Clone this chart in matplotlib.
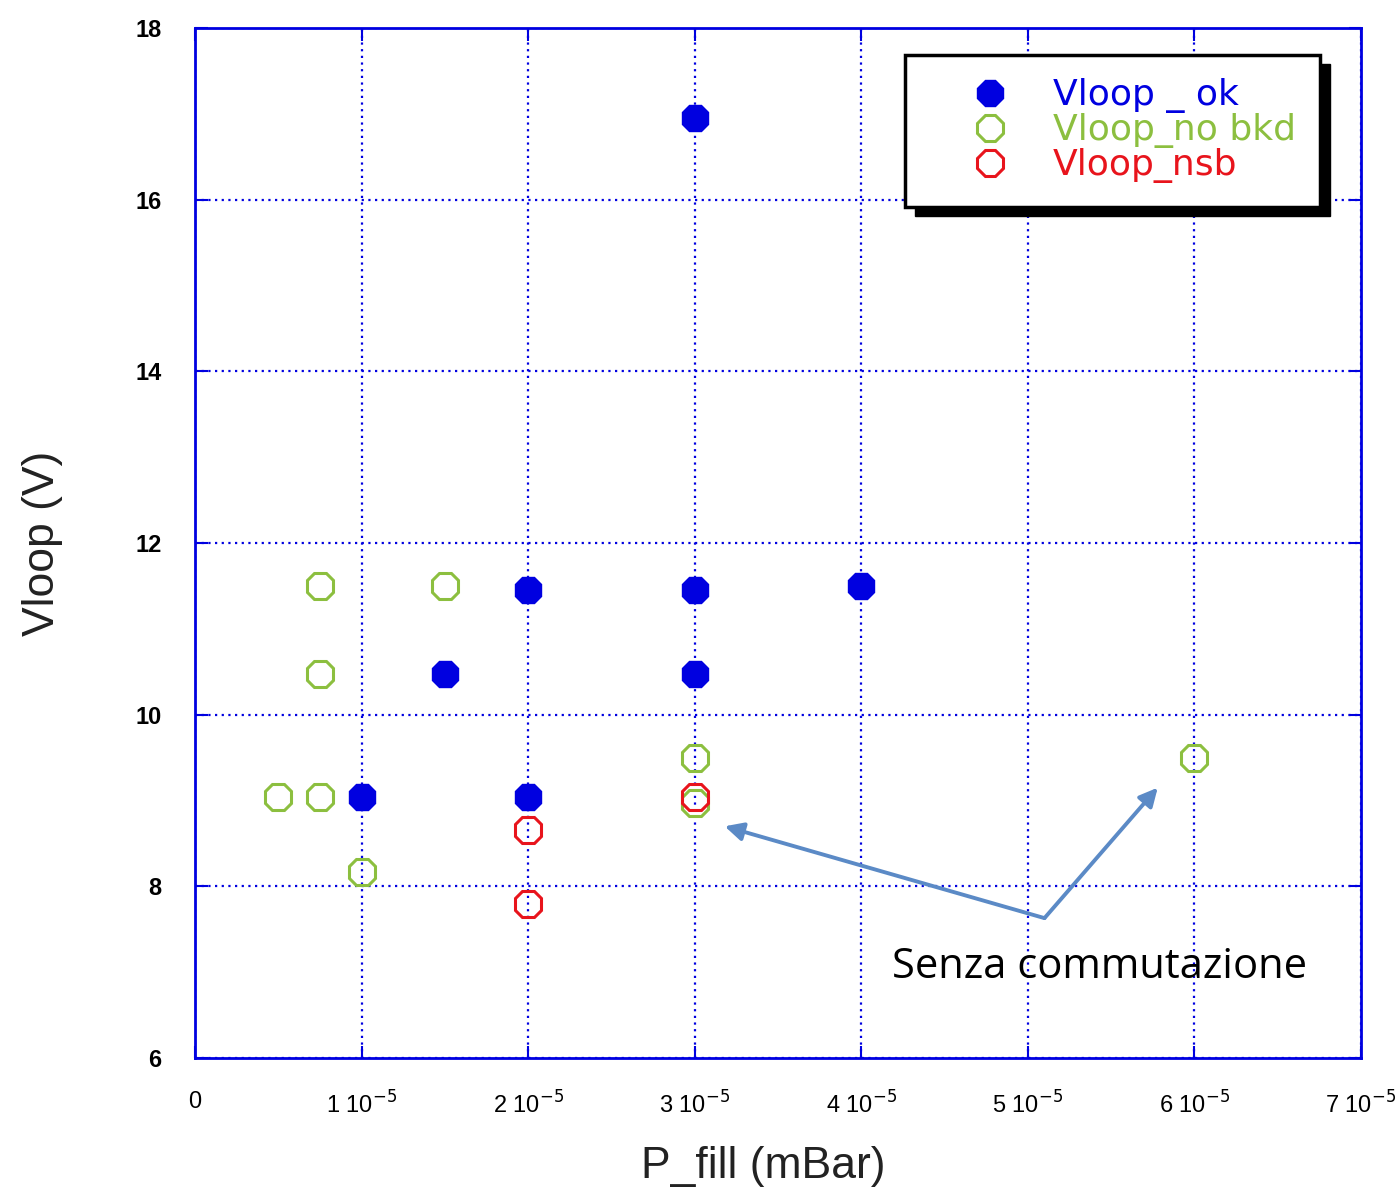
import matplotlib
matplotlib.use("Agg")
import matplotlib.pyplot as plt
from matplotlib.patches import Rectangle
import numpy as np

# Data
ok_x = [3e-5, 2e-5, 3e-5, 4e-5, 1.5e-5, 3e-5, 1e-5, 2e-5]
ok_y = [16.95, 11.45, 11.45, 11.5, 10.48, 10.48, 9.04, 9.04]
nobkd_x = [0.75e-5, 1.5e-5, 0.75e-5, 0.5e-5, 0.75e-5, 1e-5, 3e-5, 3e-5, 6e-5]
nobkd_y = [11.5, 11.5, 10.48, 9.04, 9.04, 8.17, 9.49, 8.97, 9.49]
nsb_x = [2e-5, 2e-5, 3e-5]
nsb_y = [8.66, 7.79, 9.04]

xticks = [0, 1e-5, 2e-5, 3e-5, 4e-5, 5e-5, 6e-5, 7e-5]
xticklabels = ["0"] + [r"%d 10$^{-5}$" % i for i in range(1, 8)]
yticks = [6, 8, 10, 12, 14, 16, 18]

BLUE = "#0000e0"
GREEN = "#8cbf3f"
RED = "#e8141c"
ARROW = "#5b8ac6"

narrow = ["Liberation Sans Narrow", "Liberation Sans", "DejaVu Sans"]

fig = plt.figure(figsize=(13.99, 11.88), dpi=100)
ax = fig.add_axes([0.1394, 0.1094, 0.8334, 0.867])

ax.set_xlim(0, 7e-5)
ax.set_ylim(6, 18)

ms = 21
ax.plot(nobkd_x, nobkd_y, linestyle="none", marker="8", ms=ms, mfc="none",
        mec=GREEN, mew=2.2, label="Vloop_no bkd", zorder=3)
ax.plot(nsb_x, nsb_y, linestyle="none", marker="8", ms=ms, mfc="none",
        mec=RED, mew=2.2, label="Vloop_nsb", zorder=4)
ax.plot(ok_x, ok_y, linestyle="none", marker="8", ms=ms, mfc=BLUE,
        mec=BLUE, mew=1, label="Vloop _ ok", zorder=5)

ax.set_xticks(xticks)
ax.set_xticklabels(xticklabels, family=narrow, fontsize=17)
ax.set_yticks(yticks)
ax.set_yticklabels([str(v) for v in yticks], family=narrow, fontsize=17,
                   fontweight="bold")
ax.tick_params(direction="in", length=9, width=1.5, color=BLUE,
               top=True, right=True)
ax.tick_params(axis="x", pad=24)
ax.tick_params(axis="y", pad=24)
for s in ax.spines.values():
    s.set_color(BLUE)
    s.set_linewidth(2)
ax.grid(True, color=BLUE, linestyle=(0, (1, 2)), linewidth=1.6)
ax.set_axisbelow(True)

ax.set_xlabel("P_fill (mBar)", family=narrow, fontsize=32, color="#222222")
ax.xaxis.set_label_coords(0.487, -0.085)
ax.set_ylabel("Vloop (V)", family=narrow, fontsize=32, color="#222222")
ax.yaxis.set_label_coords(-0.113, 0.50)

# Legend
h, l = ax.get_legend_handles_labels()
order = [2, 0, 1]
leg = ax.legend([h[i] for i in order], [l[i] for i in order],
                loc="upper left", bbox_to_anchor=(0.609, 0.974),
                prop={"family": ["DejaVu Sans"], "size": 26},
                labelcolor=[BLUE, GREEN, RED], frameon=True, fancybox=False,
                edgecolor="black", framealpha=1, labelspacing=0.0,
                handletextpad=0.05, borderpad=0.65, borderaxespad=0,
                handlelength=3.4, markerscale=0.95)
leg.get_frame().set_linewidth(2.5)
leg.set_zorder(10)

fig.canvas.draw()
bb = leg.get_frame().get_window_extent()
sh = Rectangle((bb.x0 + 10, bb.y0 - 9), bb.width, bb.height,
               transform=None, facecolor="black", edgecolor="black", zorder=9)
ax.add_artist(sh)

# Annotation
tx, ty = 5.10e-5, 7.63
for hx, hy in [(3.18e-5, 8.70), (5.78e-5, 9.15)]:
    ax.annotate("", xy=(hx, hy), xytext=(tx, ty),
                arrowprops=dict(arrowstyle="-|>,head_length=1.1,head_width=0.55",
                                color=ARROW, lw=2.8, shrinkA=0, shrinkB=0),
                zorder=8)
ax.text(5.43e-5, 7.06, "Senza commutazione", family=["Open Sans", "DejaVu Sans"],
        fontsize=30, ha="center", va="center", color="black", zorder=8)

fig.savefig("out.png", dpi=100)
